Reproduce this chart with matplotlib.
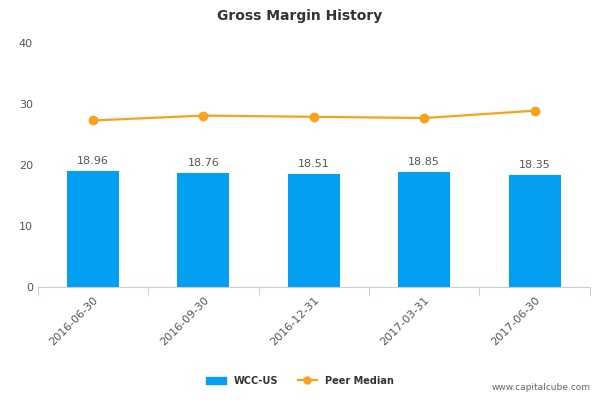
import matplotlib
matplotlib.use("Agg")
import matplotlib.pyplot as plt
from matplotlib.lines import Line2D
from matplotlib.patches import Patch

categories = ["2016-06-30", "2016-09-30", "2016-12-31", "2017-03-31", "2017-06-30"]
wcc_values = [18.96, 18.76, 18.51, 18.85, 18.35]
peer_median = [27.3, 28.1, 27.9, 27.7, 28.9]
yticks = [0, 10, 20, 30, 40]

fig = plt.figure(figsize=(6, 4), dpi=100)
ax = fig.add_axes([0.063, 0.2825, 0.92, 0.61])
x = list(range(len(categories)))
ax.bar(x, wcc_values, width=0.47, color="#049ff1", zorder=2)
for xi, v in zip(x, wcc_values):
    ax.text(xi, v + 0.8, f"{v:.2f}", ha="center", va="bottom", fontsize=8, color="#555555")
ax.plot(x, peer_median, color="#f9a11b", lw=1.6, marker="o", ms=6, zorder=3)

ax.set_xlim(-0.5, len(categories) - 0.5)
ax.set_ylim(0, 40)
ax.set_yticks(yticks)
ax.set_xticks([i - 0.5 for i in range(len(categories) + 1)], minor=False)
ax.set_xticklabels([])
ax.set_xticks(x, minor=True)
ax.set_xticklabels(categories, minor=True, rotation=45, ha="right", rotation_mode="anchor", fontsize=8, color="#555555")
ax.tick_params(axis="x", which="minor", length=0, pad=6)
ax.tick_params(axis="x", which="major", length=6, color="#c0d0e0")
ax.tick_params(axis="y", length=0, labelsize=8, labelcolor="#555555")
for s in ["top", "right", "left"]:
    ax.spines[s].set_visible(False)
ax.spines["bottom"].set_color("#c0d0e0")

fig.text(0.5, 0.96, "Gross Margin History", ha="center", va="center", fontsize=10, fontweight="bold", color="#333333")
handles = [Patch(color="#049ff1", label="WCC-US"),
           Line2D([0], [0], color="#f9a11b", marker="o", lw=1.6, ms=5, label="Peer Median")]
leg = fig.legend(handles=handles, loc="center", bbox_to_anchor=(0.5, 0.048), ncol=2, frameon=False,
                 prop={"size": 7, "weight": "bold"}, handlelength=2, columnspacing=2)
for t in leg.get_texts():
    t.set_color("#333333")
fig.text(0.985, 0.02, "www.capitalcube.com", ha="right", va="bottom", fontsize=6.5, color="#666666")
fig.savefig("out.png", dpi=100)
